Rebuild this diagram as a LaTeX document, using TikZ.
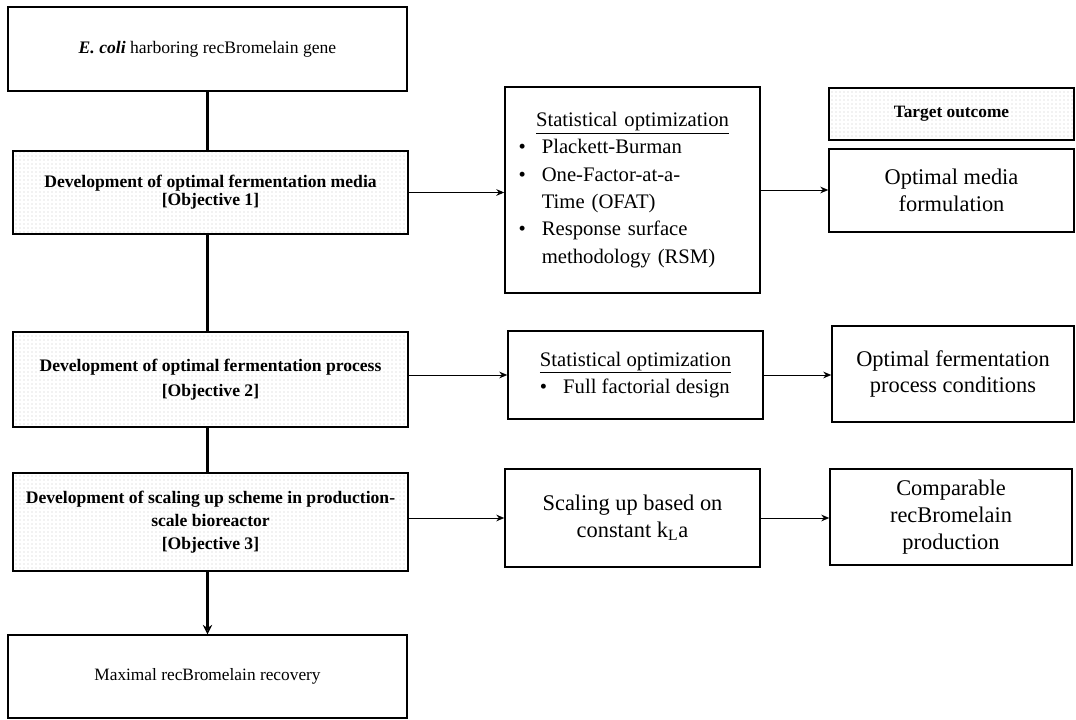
\documentclass[tikz,border=0pt]{standalone}
\usepackage{fontspec}
\setmainfont{Liberation Serif}
\usepackage{tikz}
\usetikzlibrary{arrows.meta,patterns}
\newlength{\itmw}
\setlength{\itmw}{1.75em}
\def\itm{\makebox[\itmw][l]{\textbullet}}
\def\px{0.75pt}
\tikzset{
	box/.style={draw, line width=1.1pt, inner sep=0pt, align=center},
	objbox/.style={box, pattern=dots, pattern color=black!22},
	bigbox/.style={box, font=\fontsize{16.8}{20}\selectfont},
	link/.style={line width=1.8pt},
	flow/.style={line width=0.7pt, -{Stealth[length=6pt,width=5pt]}}
}

\begin{document}
\begin{tikzpicture}[x=0.75pt, y=-0.75pt]
			%%%%% START %%%%%
			\useasboundingbox (0, 0) rectangle (1076, 720);
			
			% left column
			\node[box, minimum width=399*\px, minimum height=84*\px, font=\fontsize{13.2}{15}\selectfont] (ecoli) at (207.5, 49) {\textit{\textbf{E. coli}} harboring recBromelain gene};
			\node[objbox, minimum width=395*\px, minimum height=83*\px, font=\fontsize{13.2}{13.75}\selectfont\bfseries] (obj1) at (210.5, 192.5) {Development of optimal fermentation media\\ {[}Objective 1{]}};
			\node[objbox, minimum width=395*\px, minimum height=95*\px, font=\fontsize{13.2}{18.75}\selectfont\bfseries] (obj2) at (210.5, 379.5) {Development of optimal fermentation process\\ {[}Objective 2{]}};
			\node[objbox, minimum width=395*\px, minimum height=98*\px, font=\fontsize{13.2}{17.25}\selectfont\bfseries] (obj3) at (210.5, 522) {Development of scaling up scheme in production-\\ scale bioreactor\\ {[}Objective 3{]}};
			\node[box, minimum width=399*\px, minimum height=83*\px, font=\fontsize{13}{15}\selectfont] (recovery) at (207.5, 676.5) {Maximal recBromelain recovery};
			
			% middle column
			\node[bigbox, minimum width=255*\px, minimum height=206*\px, text width=171pt, align=left, font=\fontsize{15.5}{20.5}\selectfont] (stat1) at (632.5, 190) {{\centering\underline{Statistical optimization}\par}\itm Plackett-Burman\\ \itm One-Factor-at-a-\\ \hspace*{\itmw}Time (OFAT)\\ \itm Response surface\\ \hspace*{\itmw}methodology (RSM)};
			\node[bigbox, minimum width=255*\px, minimum height=88*\px, align=left, font=\fontsize{15.5}{20.5}\selectfont] (stat2) at (635.5, 375) {\underline{Statistical optimization}\\ \itm Full factorial design};
			\node[bigbox, minimum width=255*\px, minimum height=98*\px] (scaleup) at (632.5, 518) {Scaling up based on\\ constant k\textsubscript{L}a};
			
			% right column
			\node[box, minimum width=245*\px, minimum height=52*\px, pattern=dots, pattern color=black!22, font=\fontsize{13}{15}\selectfont\bfseries] (target) at (951.5, 114) {Target outcome};
			\node[bigbox, minimum width=245*\px, minimum height=83*\px] (media) at (951.5, 190.5) {Optimal media\\ formulation};
			\node[bigbox, minimum width=242*\px, minimum height=96*\px] (process) at (953, 374) {Optimal fermentation\\ process conditions};
			\node[bigbox, minimum width=242*\px, minimum height=96*\px] (comparable) at (951, 517) {Comparable\\ recBromelain\\ production};
			
			% connectors
			\draw[link] (ecoli.south) -- (ecoli.south |- obj1.north);
			\draw[link] (ecoli.south |- obj1.south) -- (ecoli.south |- obj2.north);
			\draw[link] (ecoli.south |- obj2.south) -- (ecoli.south |- obj3.north);
			\draw[link, -{Stealth[length=7pt,width=7pt,open]}] (ecoli.south |- obj3.south) -- (recovery.north);
			
			\draw[flow] (obj1.east) -- (obj1.east -| stat1.west);
			\draw[flow] (stat2.west -| obj2.east) -- (stat2.west);
			\draw[flow] (scaleup.west -| obj3.east) -- (scaleup.west);
			
			\draw[flow] (stat1.east) -- (stat1.east -| media.west);
			\draw[flow] (stat2.east) -- (stat2.east -| process.west);
			\draw[flow] (scaleup.east) -- (scaleup.east -| comparable.west);
			%%%%% END %%%%%
\end{tikzpicture}
\end{document}
